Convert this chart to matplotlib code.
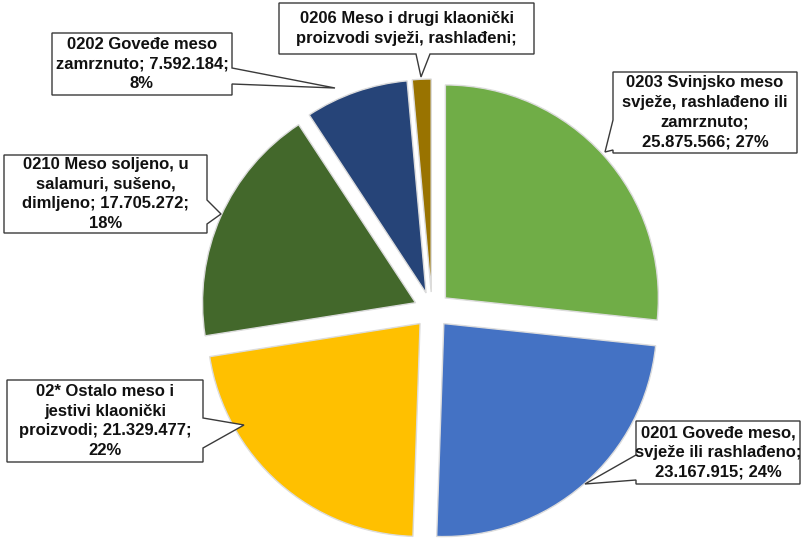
import matplotlib
matplotlib.use("Agg")
import matplotlib.pyplot as plt
from matplotlib.patches import Polygon

# Izvoz/uvoz mesa po tarifnim oznakama (vrijednosti s grafikona)
categories = [
    "0203 Svinjsko meso\nsvježe, rashlađeno ili\nzamrznuto;\n{v}; {p}%",
    "0201 Goveđe meso,\nsvježe ili rashlađeno;\n{v}; {p}%",
    "02* Ostalo meso i\njestivi klaonički\nproizvodi; {v};\n{p}%",
    "0210 Meso soljeno, u\nsalamuri, sušeno,\ndimljeno; {v};\n{p}%",
    "0202 Goveđe meso\nzamrznuto; {v};\n{p}%",
    "0206 Meso i drugi klaonički\nproizvodi svježi, rashlađeni;",
]
values = [25875566, 23167915, 21329477, 17705272, 7592184, 1380000]
colors = ["#70AD47", "#4472C4", "#FFC000", "#43682B", "#264478", "#997300"]

# figure in pixel units (y measured from the top of the image)
W, H = 808, 538
CENTER = (432, 310)
RADIUS = 213
EXPLODE = 18  # pixels

# callout layout: box (x0, y0, x1, y1), side of the pointer, base span, tip
callouts = [
    ((613, 72, 797, 153), "left", (120, 150), (605, 152)),
    ((636, 421, 800, 484), "left", (455, 480), (585, 484)),
    ((7, 380, 203, 462), "right", (418, 448), (244, 425)),
    ((4, 155, 207, 233), "right", (200, 224), (221, 214)),
    ((52, 33, 232, 95), "right", (68, 84), (335, 88)),
    ((279, 3, 534, 54), "bottom", (416, 430), (421, 77)),
]


def fmt(v):
    return f"{v:,}".replace(",", ".")


def callout_path(box, side, base, tip):
    x0, y0, x1, y1 = box
    a, b = base
    pts = [(x0, y0)]
    if side == "top":
        pts += [(a, y0), tip, (b, y0)]
    pts.append((x1, y0))
    if side == "right":
        pts += [(x1, a), tip, (x1, b)]
    pts.append((x1, y1))
    if side == "bottom":
        pts += [(b, y1), tip, (a, y1)]
    pts.append((x0, y1))
    if side == "left":
        pts += [(x0, b), tip, (x0, a)]
    return [(x, H - y) for x, y in pts]


def main():
    plt.rcParams["font.family"] = ["Liberation Sans", "DejaVu Sans"]

    fig = plt.figure(figsize=(W / 100, H / 100), dpi=100)
    ax = fig.add_axes([0, 0, 1, 1])

    total = sum(values)
    # explode is in data units here, the axes are in pixels
    ax.pie(values, colors=colors, startangle=90, counterclock=False,
           explode=[EXPLODE] * len(values), radius=RADIUS,
           center=(CENTER[0], H - CENTER[1]),
           wedgeprops=dict(edgecolor="#dcdcdc", linewidth=1.0))

    for tmpl, v, (box, side, base, tip) in zip(categories, values, callouts):
        label = tmpl.format(v=fmt(v), p=round(v / total * 100))
        ax.add_patch(Polygon(callout_path(box, side, base, tip), closed=True,
                             facecolor="white", edgecolor="#3a3a3a",
                             linewidth=1.0, zorder=5))
        cx = (box[0] + box[2]) / 2
        cy = (box[1] + box[3]) / 2
        ax.text(cx, H - cy, label, ha="center", va="center",
                multialignment="center", fontsize=12, fontweight="bold",
                color="#111111", linespacing=1.4, zorder=6)

    ax.set_xlim(0, W)
    ax.set_ylim(0, H)
    ax.set_aspect("equal")
    ax.axis("off")

    fig.savefig("out.png", dpi=100, facecolor="white")


if __name__ == "__main__":
    main()
